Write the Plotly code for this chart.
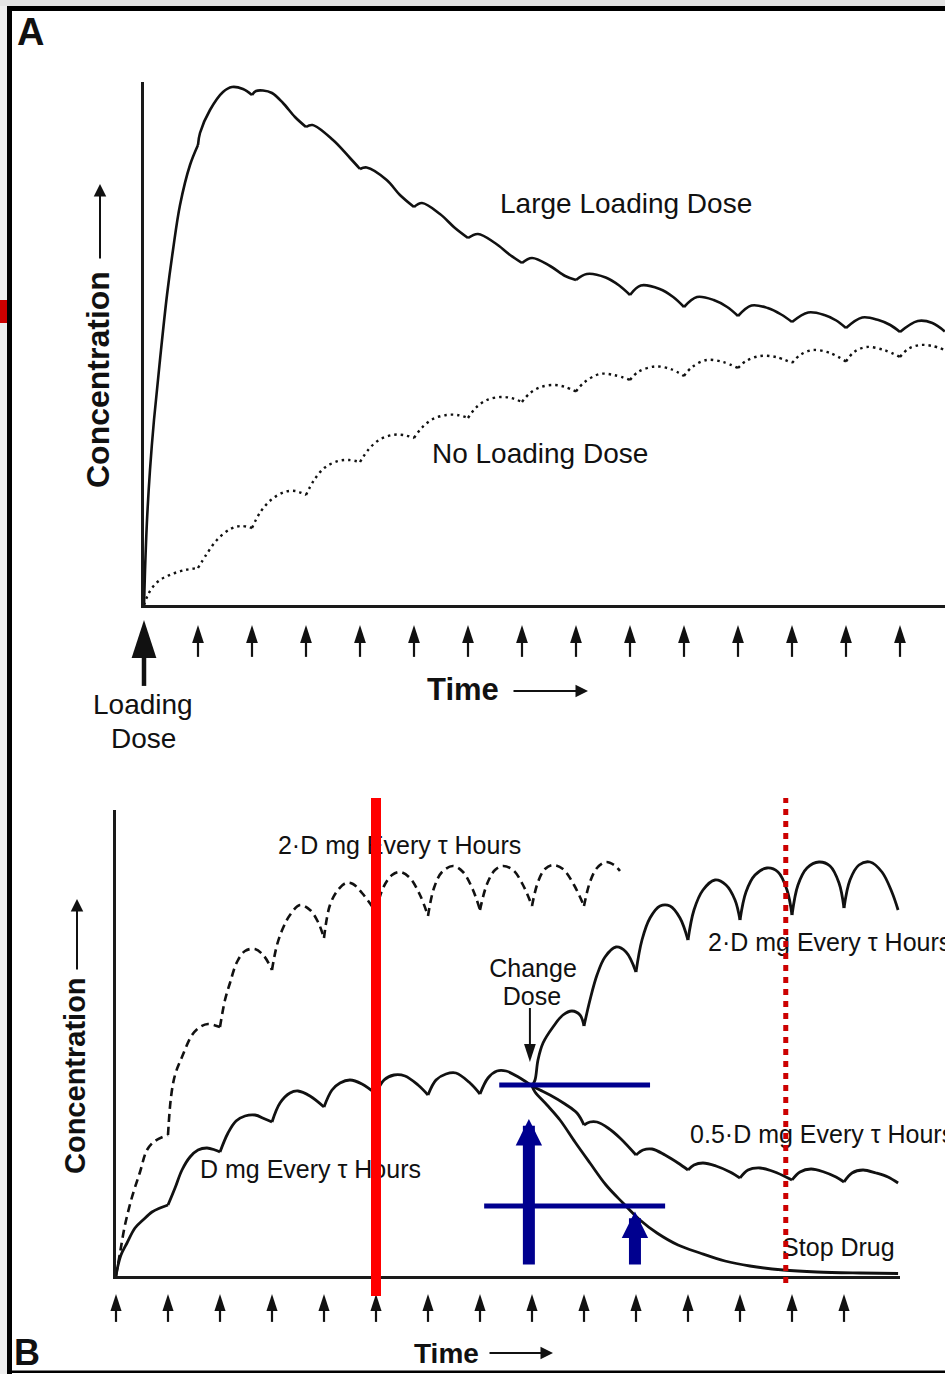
import plotly.graph_objects as go

W, H = 945, 1374
FONT = "Liberation Sans, Arial, Helvetica, sans-serif"
INK = "#111111"
NAVY = "#00008f"
RED = "#ff0000"
DARK_RED = "#cc0000"

# ---------------- Panel A : loading dose vs. no loading dose ----------------
# time in dosing intervals (tau), concentration in arbitrary units
LOAD_T = [0, 0.019, 0.056, 0.111, 0.185, 0.296, 0.426, 0.537, 0.667, 0.852, 1,
          1.037, 1.222, 1.463, 1.63, 1.833, 2,
          2.074, 2.204, 2.37, 2.574, 2.796, 3,
          3.12, 3.5, 3.815, 4,
          4.124, 4.494, 4.74, 5,
          5.148, 5.481, 5.759, 6,
          6.185, 6.5, 6.78, 7,
          7.185, 7.52, 7.8, 8,
          8.2, 8.55, 8.8, 9,
          9.2, 9.55, 9.8, 10,
          10.24, 10.55, 10.8, 11,
          11.25, 11.55, 11.8, 12,
          12.3, 12.6, 12.82, 13,
          13.3, 13.6, 13.82, 14,
          14.33, 14.6, 14.83]
LOAD_C = [0, 7, 17, 27, 37, 49, 62, 71, 80, 88, 92,
          94.4, 99, 102.6, 103.6, 103.2, 102,
          102.8, 102.9, 102.4, 100.4, 97.6, 95.6,
          96, 93, 89.4, 87.2,
          87.5, 85, 82, 79.6,
          80.4, 78.2, 75.4, 73.4,
          74.2, 72.4, 70, 68.4,
          69.4, 67.8, 65.8, 65,
          66.2, 65.5, 63.9, 62,
          63.9, 63.2, 61.6, 59.6,
          61.6, 61.0, 59.6, 57.8,
          59.9, 59.4, 58.1, 56.6,
          58.5, 58.0, 56.9, 55.4,
          57.5, 57.0, 56.0, 54.6,
          56.8, 56.4, 54.7]

NOLOAD_T = [0, 0.056, 0.148, 0.296, 0.519, 0.759, 1,
            1.15, 1.35, 1.6, 1.8, 2,
            2.15, 2.35, 2.6, 2.8, 3,
            3.15, 3.35, 3.6, 3.8, 4,
            4.15, 4.35, 4.6, 4.8, 5,
            5.15, 5.35, 5.6, 5.8, 6,
            6.15, 6.35, 6.6, 6.8, 7,
            7.15, 7.35, 7.6, 7.8, 8,
            8.15, 8.44, 8.7, 9,
            9.15, 9.46, 9.75, 10,
            10.15, 10.42, 10.72, 11,
            11.15, 11.41, 11.7, 12,
            12.15, 12.39, 12.7, 13,
            13.15, 13.38, 13.7, 14,
            14.15, 14.37, 14.6, 14.83]
NOLOAD_C = [0, 1.6, 3.4, 5, 6.2, 7, 7.4,
            10, 13, 15.2, 15.8, 15.4,
            18.5, 21, 22.6, 22.8, 22,
            25, 27.5, 28.8, 29, 28.6,
            31, 33, 34, 34, 33.4,
            35.5, 37.2, 38, 38, 37.4,
            39.5, 41, 41.6, 41.4, 40.6,
            42.4, 43.6, 44, 43.6, 42.7,
            44.5, 46.2, 46, 45,
            46.6, 47.7, 47.2, 45.8,
            47.6, 49, 48.6, 47.4,
            48.8, 49.8, 49.6, 48.4,
            50, 51, 50.4, 48.7,
            50.6, 51.6, 51, 49.6,
            51.2, 52, 51.8, 51]

LOADING_DOSE_A = [0]
DOSES_A = [1, 2, 3, 4, 5, 6, 7, 8, 9, 10, 11, 12, 13, 14]

# ---------------- Panel B : changing the maintenance dose ----------------
D_T = [0, 0.019, 0.096, 0.212, 0.365, 0.519, 0.692, 0.846, 1,
       1.135, 1.269, 1.423, 1.577, 1.75, 1.904, 2,
       2.154, 2.308, 2.481, 2.673, 2.865, 3,
       3.154, 3.346, 3.5, 3.73, 4,
       4.154, 4.308, 4.5, 4.73, 5,
       5.154, 5.346, 5.558, 5.808, 6,
       6.154, 6.346, 6.538, 6.808, 7,
       7.154, 7.327, 7.5, 7.77, 8]
D_C = [0, 1.2, 4.2, 6.6, 9.6, 11.2, 12.8, 13.6, 14.2,
       17.6, 21.2, 23.8, 25.2, 25.6, 25.2, 24.8,
       28.6, 31, 32, 32.2, 31.4, 30.8,
       34.6, 36.6, 37, 36, 33.8,
       37.2, 38.6, 39.2, 38.4, 36.4,
       39.2, 40.2, 40, 38.2, 36.2,
       39.2, 40.4, 40.6, 38.6, 36.4,
       39.6, 41, 41, 39.6, 38]

TWO_D_DASH_T = [0, 0.077, 0.173, 0.308, 0.462, 0.596, 0.75, 1,
                1.058, 1.135, 1.269, 1.462, 1.615, 1.769, 2,
                2.096, 2.192, 2.327, 2.481, 2.673, 2.846, 3,
                3.096, 3.212, 3.346, 3.538, 3.731, 3.885, 4,
                4.115, 4.269, 4.423, 4.558, 4.731, 5,
                5.135, 5.308, 5.462, 5.654, 5.846, 6,
                6.115, 6.269, 6.481, 6.673, 6.865, 7,
                7.135, 7.288, 7.442, 7.635, 7.827, 8,
                8.115, 8.25, 8.404, 8.596, 8.808, 9,
                9.115, 9.25, 9.423, 9.577, 9.692]
TWO_D_DASH_C = [0, 4.6, 10.2, 15.8, 20.8, 25.2, 27, 28.2,
                35.8, 40.2, 43.8, 48.2, 49.8, 50.4, 49.8,
                55.2, 58.6, 62.8, 65, 65.4, 64, 61.2,
                66.2, 69.6, 72.2, 74.2, 73.2, 70.8, 67.6,
                74.2, 77.2, 78.6, 78.4, 76.6, 72.8,
                77.6, 80.2, 80.8, 79.6, 76.2, 72,
                77.6, 80.8, 82, 80.8, 77.2, 73.2,
                78.4, 81.2, 82, 81.2, 78.2, 74,
                78.8, 81.4, 82.2, 81.4, 78.2, 74,
                78.8, 81.6, 82.8, 82.2, 81]

TWO_D_T = [8, 8.058, 8.115, 8.212, 8.404, 8.596, 8.769, 8.923, 9,
           9.115, 9.25, 9.404, 9.615, 9.808, 10,
           10.115, 10.269, 10.462, 10.654, 10.846, 11,
           11.115, 11.288, 11.519, 11.731, 11.904, 12,
           12.115, 12.288, 12.519, 12.731, 12.904, 13,
           13.115, 13.288, 13.519, 13.731, 13.904, 14,
           14.115, 14.288, 14.5, 14.73, 14.92, 15.04]
TWO_D_C = [38, 39.2, 43.2, 46.6, 49.8, 52.2, 53, 52.2, 50,
           55.2, 60.2, 63.8, 65.8, 64.8, 60.8,
           67.2, 71.6, 74, 74, 71.6, 67.2,
           73.2, 77.2, 79.2, 78.2, 75.2, 71.2,
           76.8, 80.2, 81.6, 80.8, 77.2, 72.2,
           78.2, 81.6, 82.8, 82, 78.6, 73.6,
           79.2, 82.2, 82.8, 80.8, 76.8, 73.2]

HALF_D_T = [8, 8.154, 8.346, 8.635, 8.865, 9,
            9.115, 9.25, 9.462, 9.692, 10,
            10.135, 10.308, 10.558, 10.808, 11,
            11.115, 11.288, 11.538, 11.808, 12,
            12.154, 12.385, 12.615, 12.846, 13,
            13.154, 13.365, 13.615, 13.846, 14,
            14.154, 14.365, 14.615, 14.846, 15.04]
HALF_D_C = [38, 37.2, 36.2, 34.4, 32.6, 30.2,
            30.8, 30.8, 29.6, 27.6, 24.2,
            25.2, 25.4, 24.2, 22.6, 21.2,
            22.2, 22.6, 22, 20.8, 19.6,
            21.2, 21.6, 21, 20, 19.2,
            20.8, 21.4, 20.8, 19.8, 18.8,
            20.6, 21.2, 20.6, 19.8, 18.6]

STOP_T = [8, 8.058, 8.288, 8.538, 8.827, 9.115, 9.423, 9.75, 10.077,
          10.404, 10.808, 11.23, 11.712, 12.192, 12.827, 13.481, 14.308, 15.04]
STOP_C = [38, 36.8, 34.2, 31.2, 26.8, 22.6, 18.2, 14.6, 11.2,
          8.6, 6.2, 4.6, 3, 2, 1.2, 0.8, 0.6, 0.5]

DOSES_B = [0, 1, 2, 3, 4, 5, 6, 7, 8, 9, 10, 11, 12, 13, 14]
CHANGE_DOSE_T = 7.96
CHANGE_ARROW_C = [53.6, 42.8]

# reference markings laid over panel B
RED_SOLID_T = 5.0
RED_DOTTED_T = 12.88
BLUE_LEVEL_C = [38.2, 14.0]
BLUE_LEVEL_T0 = [7.37, 7.08]
BLUE_LEVEL_T1 = [10.27, 10.56]
BLUE_ARROW_T = [7.94, 9.98]
BLUE_ARROW_TOP = [31.4, 12.9]
BLUE_ARROW_BASE = 2.0

LABELS_A = [("Large Loading Dose", 6.593, 79.8), ("No Loading Dose", 5.333, 29.8)]
LABELS_B = [("2·D mg Every τ Hours", 3.115, 85.6, "middle right"),
            ("Change", 8.02, 61.0, "middle center"),
            ("Dose", 8.0, 55.4, "middle center"),
            ("2·D mg Every τ Hours", 11.385, 66.2, "middle right"),
            ("0.5·D mg Every τ Hours", 11.04, 27.8, "middle right"),
            ("D mg Every τ Hours", 1.615, 20.8, "middle right"),
            ("Stop Drug", 12.81, 5.2, "middle right")]


def px(x):
    return x / W


def py(y):
    return 1 - y / H


def scallop(t, c):
    """Break a dosing curve at every dose time so each interval is smoothed on its own,
    keeping the sharp trough at each new dose."""
    xs, ys = [], []
    n = len(t)
    for i in range(n):
        xs.append(t[i])
        ys.append(c[i])
        if 0 < i < n - 1 and abs(t[i] - round(t[i])) < 1e-9:
            xs += [None, t[i]]
            ys += [None, c[i]]
    return xs, ys


def curve(t, c, xa, ya, width=2.7, dash="solid", split=True):
    xs, ys = scallop(t, c) if split else (t, c)
    return go.Scatter(x=xs, y=ys, xaxis=xa, yaxis=ya, mode="lines",
                      line=dict(color=INK, width=width, dash=dash, shape="spline", smoothing=1.0),
                      connectgaps=False, hoverinfo="skip", showlegend=False)


def dose_arrows(times, xa, ya, base, shaft_top, tip, width, head):
    xs, ys = [], []
    for t in times:
        xs += [t, t, None]
        ys += [base, shaft_top, None]
    shaft = go.Scatter(x=xs, y=ys, xaxis=xa, yaxis=ya, mode="lines",
                       line=dict(color=INK, width=width), cliponaxis=False,
                       hoverinfo="skip", showlegend=False)
    heads = go.Scatter(x=list(times), y=[tip] * len(times), xaxis=xa, yaxis=ya, mode="markers",
                       marker=dict(symbol="arrow", size=head, color=INK, line=dict(width=0)),
                       cliponaxis=False, hoverinfo="skip", showlegend=False)
    return [shaft, heads]


fig = go.Figure()

# panel A curves
fig.add_trace(curve(LOAD_T, LOAD_C, "x", "y", width=2.6))
fig.add_trace(curve(NOLOAD_T, NOLOAD_C, "x", "y", width=2.4, dash="2.5px,4px"))
fig.add_trace(go.Scatter(x=[l[1] for l in LABELS_A], y=[l[2] for l in LABELS_A],
                         text=[l[0] for l in LABELS_A], mode="text", textposition="middle right",
                         textfont=dict(family=FONT, size=28, color=INK), xaxis="x", yaxis="y",
                         cliponaxis=False, hoverinfo="skip", showlegend=False))

# panel A dose arrows
for tr in dose_arrows(LOADING_DOSE_A, "x3", "y3", 0.16, 0.68, 0.91, 4.5, 40):
    fig.add_trace(tr)
for tr in dose_arrows(DOSES_A, "x3", "y3", 0.49, 0.74, 0.852, 2.2, 19):
    fig.add_trace(tr)

# panel B curves
fig.add_trace(curve(TWO_D_DASH_T, TWO_D_DASH_C, "x2", "y2", width=2.6, dash="8px,5px"))
fig.add_trace(curve(D_T, D_C, "x2", "y2", width=2.8))
fig.add_trace(curve(TWO_D_T, TWO_D_C, "x2", "y2", width=2.8))
fig.add_trace(curve(HALF_D_T, HALF_D_C, "x2", "y2", width=2.8))
fig.add_trace(curve(STOP_T, STOP_C, "x2", "y2", width=2.8, split=False))

# "Change Dose" pointer
fig.add_trace(go.Scatter(x=[CHANGE_DOSE_T, CHANGE_DOSE_T],
                         y=[CHANGE_ARROW_C[0], CHANGE_ARROW_C[1] + 2.5], xaxis="x2", yaxis="y2",
                         mode="lines", line=dict(color=INK, width=2),
                         hoverinfo="skip", showlegend=False))
fig.add_trace(go.Scatter(x=[CHANGE_DOSE_T], y=[CHANGE_ARROW_C[1]], xaxis="x2", yaxis="y2",
                         mode="markers", marker=dict(symbol="arrow", angle=180, size=19, color=INK,
                                                     line=dict(width=0)),
                         hoverinfo="skip", showlegend=False))

# blue level lines
for c, t0, t1 in zip(BLUE_LEVEL_C, BLUE_LEVEL_T0, BLUE_LEVEL_T1):
    fig.add_trace(go.Scatter(x=[t0, t1], y=[c, c], xaxis="x2", yaxis="y2", mode="lines",
                             line=dict(color=NAVY, width=5), hoverinfo="skip", showlegend=False))

fig.add_trace(go.Scatter(x=[l[1] for l in LABELS_B], y=[l[2] for l in LABELS_B],
                         text=[l[0] for l in LABELS_B], mode="text",
                         textposition=[l[3] for l in LABELS_B],
                         textfont=dict(family=FONT, size=25, color=INK), xaxis="x2", yaxis="y2",
                         cliponaxis=False, hoverinfo="skip", showlegend=False))

# panel B dose arrows
for tr in dose_arrows(DOSES_B, "x4", "y4", 0.18, 0.58, 0.8, 2.2, 18):
    fig.add_trace(tr)

axis_common = dict(showgrid=False, zeroline=False, showticklabels=False, ticks="",
                   fixedrange=True)
line_style = dict(showline=True, linecolor="#1a1a1a", linewidth=2.5)
hidden = dict(visible=False, fixedrange=True)

fig.update_layout(
    width=W, height=H, margin=dict(l=0, r=0, t=0, b=0),
    paper_bgcolor="white", plot_bgcolor="rgba(0,0,0,0)", showlegend=False,
    xaxis=dict(domain=[px(144), 1], range=[0, 801 / 54], anchor="y", **axis_common, **line_style),
    yaxis=dict(domain=[py(605), py(82)], range=[0, 523 / 5], anchor="x", **axis_common, **line_style),
    xaxis2=dict(domain=[px(116), px(900)], range=[0, 784 / 52], anchor="y2", **axis_common, **line_style),
    yaxis2=dict(domain=[py(1276), py(810)], range=[0, 466 / 5], anchor="x2", **axis_common, **line_style),
    xaxis3=dict(domain=[px(90), 1], range=[-1.0, 801 / 54], anchor="y3", **hidden),
    yaxis3=dict(domain=[py(700), py(612)], range=[0, 1], anchor="x3", **hidden),
    xaxis4=dict(domain=[px(64), 1], range=[-1.0, 829 / 52], anchor="y4", **hidden),
    yaxis4=dict(domain=[py(1330), py(1285)], range=[0, 1], anchor="x4", **hidden),
)

shapes = [
    # page edge and frame
    dict(type="rect", xref="paper", yref="paper", x0=0, x1=px(7), y0=0, y1=1,
         fillcolor="#eeeeee", line=dict(width=0), layer="below"),
    dict(type="rect", xref="paper", yref="paper", x0=0, x1=1, y0=py(6), y1=1,
         fillcolor="#e4e4e4", line=dict(width=0), layer="below"),
    dict(type="rect", xref="paper", yref="paper", x0=px(7), x1=1, y0=py(11), y1=py(6),
         fillcolor="#000000", line=dict(width=0)),
    dict(type="rect", xref="paper", yref="paper", x0=px(7), x1=px(12), y0=0, y1=py(6),
         fillcolor="#000000", line=dict(width=0)),
    dict(type="rect", xref="paper", yref="paper", x0=px(7), x1=1, y0=py(1373), y1=py(1370.5),
         fillcolor="#000000", line=dict(width=0)),
    dict(type="rect", xref="paper", yref="paper", x0=0, x1=px(7), y0=py(323), y1=py(300),
         fillcolor=DARK_RED, line=dict(width=0)),
    # red markers over panel B
    dict(type="line", xref="x2", yref="paper", x0=RED_SOLID_T, x1=RED_SOLID_T,
         y0=py(1296), y1=py(798), line=dict(color=RED, width=10), layer="above"),
    dict(type="line", xref="x2", yref="paper", x0=RED_DOTTED_T, x1=RED_DOTTED_T,
         y0=py(1283), y1=py(798), line=dict(color=DARK_RED, width=5, dash="6px,6px"), layer="above"),
]
fig.update_layout(shapes=shapes)


def note(text, x, y, size, bold=False, anchor="center", angle=0):
    return dict(text=f"<b>{text}</b>" if bold else text, x=px(x), y=py(y), xref="paper",
                yref="paper", xanchor=anchor, yanchor="middle", showarrow=False,
                textangle=angle, font=dict(family=FONT, size=size, color=INK))


def pointer(tip_x, tip_y, dx, dy):
    return dict(text="", x=px(tip_x), y=py(tip_y), xref="paper", yref="paper", ax=dx, ay=dy,
                showarrow=True, arrowhead=2, arrowsize=1.25, arrowwidth=2, arrowcolor=INK)


annotations = [
    note("A", 30, 32, 38, bold=True),
    note("Concentration", 98, 380, 32, bold=True, angle=-90),
    pointer(100, 184, 0, 76),
    note("Loading", 143, 704, 28),
    note("Dose", 143, 738, 28),
    note("Time", 463, 690, 31, bold=True),
    pointer(588, 691, -76, 0),
    note("B", 27, 1352, 36, bold=True),
    note("Concentration", 75, 1076, 29, bold=True, angle=-90),
    pointer(77, 899, 0, 72),
    note("Time", 446, 1353, 28, bold=True),
    pointer(553, 1353, -65, 0),
]
for t, top in zip(BLUE_ARROW_T, BLUE_ARROW_TOP):
    annotations.append(dict(text="", x=t, y=top, xref="x2", yref="y2", ax=t, ay=BLUE_ARROW_BASE,
                            axref="x2", ayref="y2", showarrow=True, arrowhead=2, arrowsize=0.44,
                            arrowwidth=12, arrowcolor=NAVY))
fig.update_layout(annotations=annotations)

fig.write_html("out.html")
